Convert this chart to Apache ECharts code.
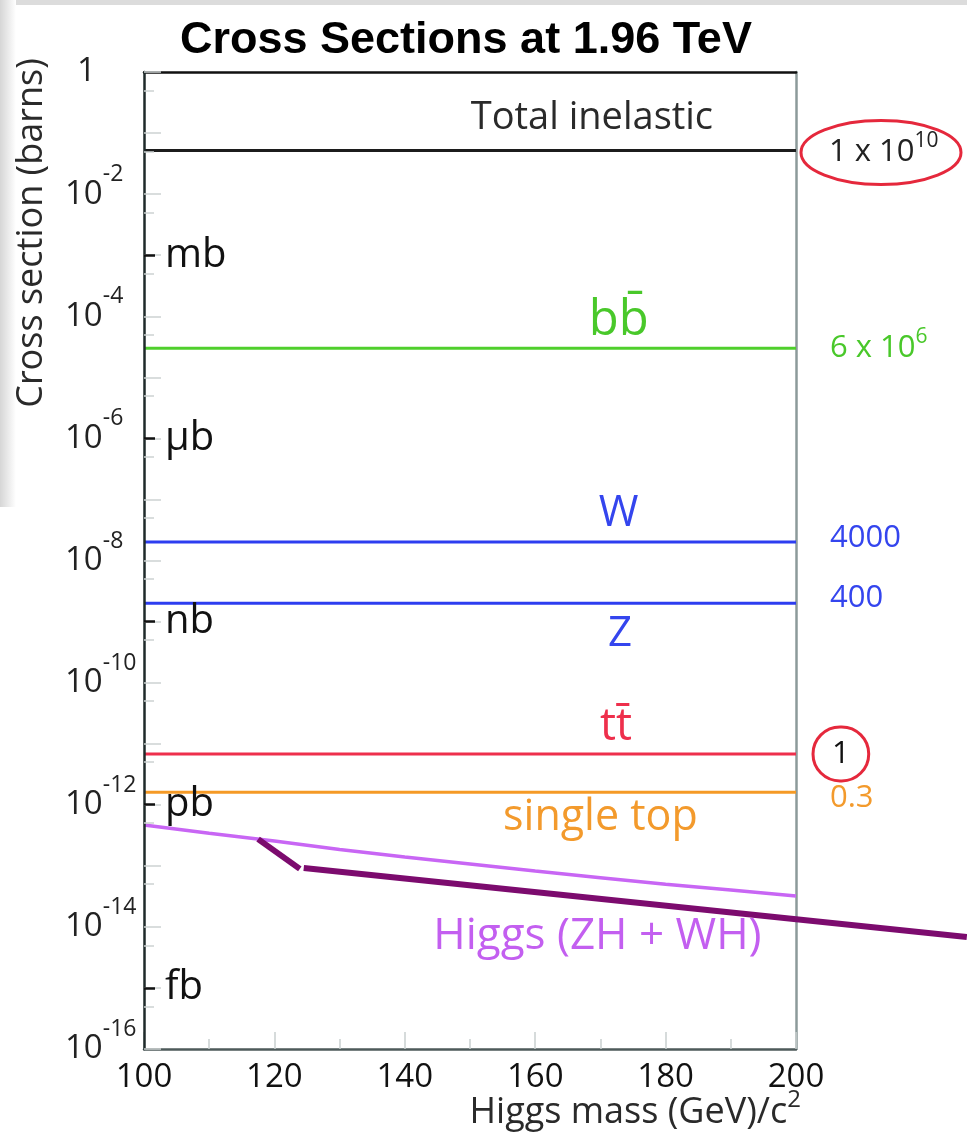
<!DOCTYPE html>
<html>
<head>
<meta charset="utf-8">
<title>Cross Sections at 1.96 TeV</title>
<script src="https://cdn.jsdelivr.net/npm/echarts@6/dist/echarts.min.js"></script>
<style>
  html, body { margin: 0; padding: 0; background: #ffffff; }
  #chart { width: 967px; height: 1132px; }
</style>
</head>
<body>
<div id="chart"></div>
<script>
// Tevatron p-pbar production, sqrt(s) = 1.96 TeV
const processes = ['Total inelastic', 'b\u200Bb\u0304', 'W', 'Z', 't\u200Bt\u0304', 'single top'];
// cross sections in barns
const crossSections = [5.2e-2, 3.0e-5, 2.0e-8, 2.0e-9, 6.8e-12, 1.6e-12];
// relative event counts quoted beside each process
const eventCounts = ['1 x 10{sup|10}', '6 x 10{sup|6}', '4000', '400', '1', '0.3'];

// associated Higgs production (ZH + WH) versus Higgs mass
const higgsMass = [100, 110, 120, 130, 140, 150, 160, 170, 180, 190, 200];
const higgsCrossSection = [4.65e-13, 3.4e-13, 2.55e-13, 1.85e-13, 1.4e-13, 1.07e-13, 8.2e-14, 6.4e-14, 5.0e-14, 4.0e-14, 3.2e-14];

// hand-drawn pointer across the Higgs curve; '-' breaks the stroke
const pointerMass = [117.5, 123.9, '-', 124.5, 226.2];
const pointerCrossSection = [2.74e-13, 8.9e-14, '-', 9.2e-14, 6.8e-15];

// axis ticks and labels
const massTicks = [100, 120, 140, 160, 180, 200];
const decadeTicks = [];
const halfDecadeTicks = [];
for (let k = 0; k <= 16; k++) {
  decadeTicks.push(Number('1e-' + k));
  if (k < 16) halfDecadeTicks.push(Number('5e-' + (k + 1)));
}
const decadeLabels = decadeTicks.filter((v, k) => k % 2 === 0);
const unitTicks = [1e-3, 1e-6, 1e-9, 1e-12, 1e-15];
const unitNames = ['mb', '\u03BCb', 'nb', 'pb', 'fb'];

const FONT = '"Open Sans", "Noto Sans", "DejaVu Sans", sans-serif';
const lineColors = ['#1c1c1c', '#4fcf2c', '#2d3df0', '#2d3df0', '#ee2f4c', '#f59a26'];
const textColors = ['#2a2a2a', '#49c82a', '#3445ee', '#3445ee', '#ee2f4c', '#f39a2c'];
const higgsColor = '#c866f4';
const pointerColor = '#7c0b6e';
const ringColor = '#e5283c';

// where each process name sits: mass along the line, pixel shift above/below it, size
const nameSpots = [
  { mass: 168.7, dy: -32, size: 38 },
  { mass: 172.8, dy: -27, size: 49 },
  { mass: 172.8, dy: -28, size: 43 },
  { mass: 173.0, dy: 31, size: 42 },
  { mass: 172.4, dy: -27, size: 45 },
  { mass: 170.0, dy: 25, size: 43 }
];

const supStyle = { fontSize: 21, lineHeight: 22, verticalAlign: 'top', fontFamily: FONT };
const endLabels = [
  { distance: 33, color: '#222', lineHeight: 44, offset: [0, 2] },
  { distance: 34, color: textColors[1], lineHeight: 44 },
  { distance: 34, color: textColors[2], offset: [0, -4] },
  { distance: 34, color: textColors[3], offset: [0, -5] },
  { distance: 17, color: '#111', padding: [12, 19, 12, 19], lineHeight: 30, borderColor: ringColor, borderWidth: 3, borderRadius: 28 },
  { distance: 34, color: textColors[5], offset: [0, 6] }
];

const processSeries = processes.map((name, i) => ({
  type: 'line',
  name: name,
  data: [[100, crossSections[i]], [200, crossSections[i]]],
  symbol: 'none',
  z: 3,
  lineStyle: { color: lineColors[i], width: 3 },
  endLabel: Object.assign({
    show: true,
    formatter: eventCounts[i],
    fontSize: 31,
    fontFamily: FONT,
    rich: { sup: Object.assign({}, supStyle, { color: endLabels[i].color }) }
  }, endLabels[i]),
  markPoint: {
    symbol: 'circle',
    symbolSize: 1,
    silent: true,
    itemStyle: { color: 'rgba(0,0,0,0)' },
    data: [{
      coord: [nameSpots[i].mass, crossSections[i]],
      label: {
        show: true, position: 'inside', formatter: name,
        offset: [0, nameSpots[i].dy], color: textColors[i],
        fontSize: nameSpots[i].size, fontFamily: FONT
      }
    }]
  }
}));

const higgsSeries = {
  type: 'line',
  name: 'Higgs (ZH + WH)',
  data: higgsMass.map((m, i) => [m, higgsCrossSection[i]]),
  symbol: 'none',
  z: 3,
  lineStyle: { color: higgsColor, width: 3.5 },
  markPoint: {
    symbol: 'circle', symbolSize: 1, silent: true,
    itemStyle: { color: 'rgba(0,0,0,0)' },
    data: [{
      coord: [170, higgsCrossSection[7]],
      label: {
        show: true, position: 'inside', formatter: 'Higgs (ZH + WH)',
        offset: [-3, 59], color: '#c35ff0', fontSize: 44, fontFamily: FONT
      }
    }]
  }
};

const logAxisBase = { type: 'log', logBase: 10, min: 1e-16, max: 1, gridIndex: 0, splitLine: { show: false } };

const option = {
  animation: false,
  backgroundColor: '#ffffff',
  title: {
    text: 'Cross Sections at 1.96 TeV',
    left: 175,
    top: 13,
    textStyle: { fontFamily: '"Liberation Sans", Arial, sans-serif', fontWeight: 'bold', fontSize: 45, color: '#000' }
  },
  graphic: [
    { id: 'frameTop', type: 'rect', z: -10, shape: { x: 0, y: 0, width: 967, height: 5 }, style: { fill: '#dcdcdc' } },
    { id: 'frameLeft', type: 'rect', z: -10, shape: { x: 0, y: 0, width: 16, height: 507 },
      style: { fill: new echarts.graphic.LinearGradient(0, 0, 1, 0, [
        { offset: 0, color: '#d6d6d6' }, { offset: 0.4, color: '#e6e6e6' }, { offset: 1, color: '#ffffff' }]) } },
    { id: 'yName', type: 'text', z: 10, x: 32, y: 233, rotation: Math.PI / 2,
      style: { text: 'Cross section (barns)', fontFamily: FONT, fontSize: 36, fill: '#2a2a2a', align: 'center', verticalAlign: 'middle' } },
    { id: 'xName', type: 'text', z: 10, x: 801, y: 1113,
      style: {
        text: 'Higgs mass (GeV)/c{sup|2}', fontFamily: FONT, fontSize: 36, lineHeight: 50, fill: '#2a2a2a',
        align: 'right', verticalAlign: 'middle',
        rich: { sup: { fontSize: 24, lineHeight: 24, verticalAlign: 'top', fontFamily: FONT, fill: '#2a2a2a' } }
      } }
  ],
  grid: { left: 144, right: 171, top: 72, bottom: 83, containLabel: false, outerBoundsMode: 'none' },
  xAxis: [
    {
      type: 'value', min: 100, max: 200, interval: 20, position: 'bottom',
      axisLine: { lineStyle: { color: '#4d5a5a', width: 2.5 } },
      axisTick: { show: true, inside: true, length: 17, customValues: massTicks, lineStyle: { color: '#c9cfcf', width: 1.5 } },
      minorTick: { show: true, splitNumber: 2, length: 10, lineStyle: { color: '#c9cfcf', width: 1.5 } },
      splitLine: { show: false },
      axisLabel: { customValues: massTicks, fontSize: 33, fontFamily: FONT, color: '#111', margin: 12 }
    },
    {
      type: 'value', min: 100, max: 200, position: 'top',
      axisLine: { lineStyle: { color: '#111', width: 2.5 } },
      axisTick: { show: false }, axisLabel: { show: false }, splitLine: { show: false }
    }
  ],
  yAxis: [
    Object.assign({}, logAxisBase, {
      position: 'left', z: 4,
      axisLine: { show: true, lineStyle: { color: '#1f2a2a', width: 2.5 } },
      axisTick: { show: true, inside: true, length: 17, customValues: decadeTicks, lineStyle: { color: '#cdd2d2', width: 1.5 } },
      axisLabel: {
        customValues: decadeLabels,
        align: 'left', margin: 79,
        formatter: v => {
          const e = Math.round(Math.log10(v));
          return e === 0 ? '{one|1}' : '{base|10}{sup|' + e + '}';
        },
        rich: {
          one: { fontSize: 33, lineHeight: 62, padding: [0, 0, 0, 12], fontFamily: FONT, color: '#222' },
          base: { fontSize: 33, lineHeight: 62, fontFamily: FONT, color: '#222' },
          sup: { fontSize: 23, lineHeight: 24, verticalAlign: 'top', fontFamily: FONT, color: '#222' }
        }
      }
    }),
    Object.assign({}, logAxisBase, {
      position: 'left', z: 4,
      axisLine: { show: false },
      axisTick: { show: true, inside: true, length: 10, customValues: halfDecadeTicks, lineStyle: { color: '#cdd2d2', width: 1.5 } },
      axisLabel: { show: false }
    }),
    Object.assign({}, logAxisBase, {
      position: 'left', z: 5,
      axisLine: { show: false },
      axisTick: { show: true, inside: true, length: 11, customValues: unitTicks, lineStyle: { color: '#111', width: 2.5 } },
      axisLabel: {
        customValues: unitTicks, inside: true, margin: 21,
        formatter: v => unitNames[unitTicks.findIndex(u => Math.abs(Math.log10(u) - Math.log10(v)) < 1e-6)],
        fontSize: 40, fontFamily: FONT, color: '#111'
      }
    }),
    Object.assign({}, logAxisBase, {
      position: 'right',
      axisLine: { show: true, lineStyle: { color: '#8c9a9a', width: 2.5 } },
      axisTick: { show: false }, axisLabel: { show: false }
    })
  ],
  series: processSeries.concat([higgsSeries])
};

const chart = echarts.init(document.getElementById('chart'));
chart.setOption(option);

// The pointer runs past the frame, so it is placed with the chart's own
// axis scales and drawn as free polylines that are not clipped to the grid.
const strokes = [[]];
pointerMass.forEach((m, i) => {
  if (m === '-') { strokes.push([]); return; }
  strokes[strokes.length - 1].push(
    chart.convertToPixel({ xAxisIndex: 0, yAxisIndex: 0 }, [m, pointerCrossSection[i]])
  );
});
// Oval ring round the total-inelastic event count, anchored at the line's end.
const inelasticEnd = chart.convertToPixel({ xAxisIndex: 0, yAxisIndex: 0 }, [200, crossSections[0]]);
chart.setOption({
  graphic: strokes.filter(s => s.length > 1).map((pts, k) => ({
    id: 'pointer' + k,
    type: 'polyline',
    z: 20,
    shape: { points: pts },
    style: { stroke: pointerColor, lineWidth: 6, lineCap: 'butt', fill: null }
  })).concat([{
    id: 'inelasticRing',
    type: 'ellipse',
    z: 20,
    shape: { cx: inelasticEnd[0] + 85, cy: inelasticEnd[1] + 2, rx: 80, ry: 32 },
    style: { stroke: ringColor, lineWidth: 3, fill: null }
  }])
});
</script>
</body>
</html>
